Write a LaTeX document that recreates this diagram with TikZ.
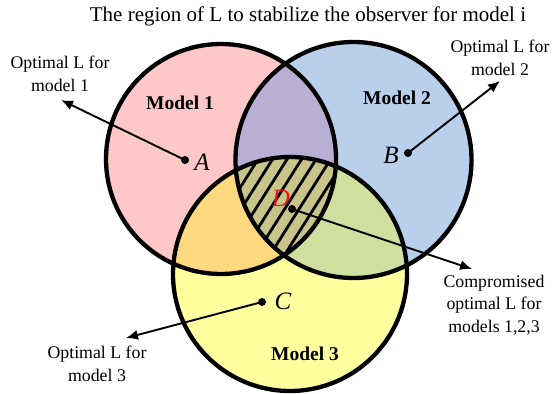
\documentclass[tikz,border=0pt]{standalone}
\usepackage{fontspec}
\setmainfont{Liberation Serif}
\usetikzlibrary{arrows.meta}

\definecolor{fillA}{RGB}{255,200,200}
\definecolor{fillB}{RGB}{185,207,235}
\definecolor{fillC}{RGB}{255,255,160}
\definecolor{fillAB}{RGB}{185,174,212}
\definecolor{fillAC}{RGB}{255,217,128}
\definecolor{fillBC}{RGB}{207,223,160}
\definecolor{fillABC}{RGB}{201,197,138}
\definecolor{mark}{RGB}{235,20,20}

\begin{document}
\begin{tikzpicture}[x=1pt,y=-1pt,
  ring/.style={line width=4.3pt},
  hatchline/.style={line width=2.8pt},
  lbl/.style={font=\fontsize{17.8}{22.5}\selectfont, align=center, inner sep=0pt},
  mdl/.style={font=\fontsize{19.5}{22}\selectfont\bfseries, inner sep=0pt},
  dotnode/.style={circle, fill=black, inner sep=0pt, minimum size=8pt},
  ptname/.style={font=\fontsize{25}{25}\selectfont\itshape, inner sep=0pt},
  ptr/.style={line width=1.9pt, -{Latex[length=12pt,width=10pt]}}]
\useasboundingbox (0,0) rectangle (555,394);

\def\circA{(221,159) circle[radius=115pt]}
\def\circB{(353.5,160) circle[radius=118pt]}
\def\circC{(290,274) circle[radius=117pt]}

% base discs
\fill[fillA] \circA;
\fill[fillB] \circB;
\fill[fillC] \circC;
% pairwise overlaps
\begin{scope}
  \clip \circA; \fill[fillAB] \circB;
\end{scope}
\begin{scope}
  \clip \circA; \fill[fillAC] \circC;
\end{scope}
\begin{scope}
  \clip \circB; \fill[fillBC] \circC;
\end{scope}
% common region, hatched
\begin{scope}
  \clip \circA; \clip \circB;
  \fill[fillABC] \circC;
  \clip \circC;
  \foreach \x in {140,154.5,...,360}
    \draw[hatchline] (\x,300) -- ++(100,-158);
\end{scope}
% outlines
\draw[ring] \circA;
\draw[ring] \circB;
\draw[ring] \circC;

% title and model names
\node[lbl, font=\fontsize{21}{24}\selectfont] (title) at (308,16) {The region of L to stabilize the observer for model i};
\node[mdl] (m1) at (180,103) {Model 1};
\node[mdl] (m2) at (397,98) {Model 2};
\node[mdl] (m3) at (305,354) {Model 3};

% optimal points
\node[dotnode] (pA) at (185,160) {};
\node[dotnode] (pB) at (408,153) {};
\node[dotnode] (pC) at (262,302) {};
\node[dotnode] (pD) at (292,209) {};
\node[ptname] (nA) at (202,162) {A};
\node[ptname] (nB) at (391,155) {B};
\node[ptname] (nC) at (283,301) {C};
\node[ptname, text=mark] (nD) at (281,198) {D};

% explanatory labels
\node[lbl] (tA) at (60,74) {Optimal L for\\model 1};
\node[lbl] (tB) at (500,58) {Optimal L for\\model 2};
\node[lbl] (tC) at (97,364) {Optimal L for\\model 3};
\node[lbl] (tD) at (494,305) {Compromised\\optimal L for\\models 1,2,3};

% arrow ends
\coordinate (eA) at (61,100);
\coordinate (eB) at (500,81);
\coordinate (eC) at (126,338);
\coordinate (eD) at (472,269);

\draw[ptr] (pA.center) -- (eA);
\draw[ptr] (pB.center) -- (eB);
\draw[ptr] (pC.center) -- (eC);
\draw[ptr] (pD.center) -- (eD);
\end{tikzpicture}
\end{document}
